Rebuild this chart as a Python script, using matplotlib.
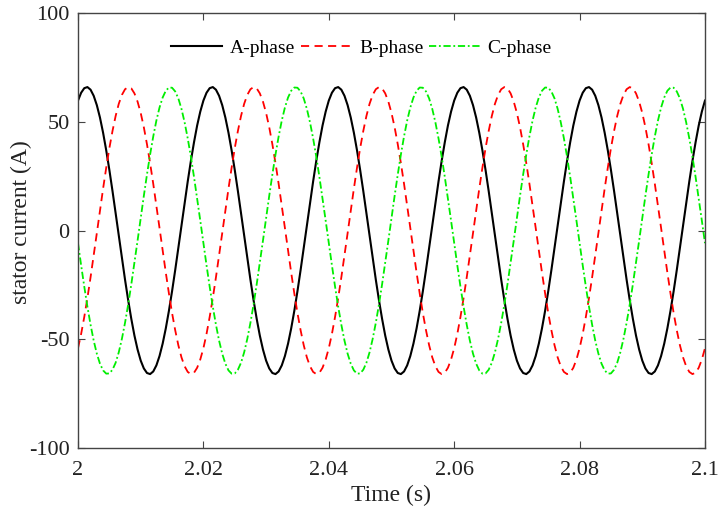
import numpy as np
import matplotlib
matplotlib.use('Agg')
import matplotlib.pyplot as plt

# time axis, one sample every 0.5 ms from 2.000 s to 2.100 s
t = np.round(np.arange(2.0, 2.10025, 0.0005), 4)

# phase currents (A), one cycle = 40 samples
ia = [59.8, 63.4, 65.5, 66.0, 64.8, 62.0, 57.7, 52.0, 45.0, 36.9, 27.9, 18.2, 8.0, -2.3, -12.6, -22.6, -32.0, -40.6, -48.3, -54.7,
      -59.8, -63.4, -65.5, -66.0, -64.8, -62.0, -57.7, -52.0, -45.0, -36.9, -27.9, -18.2, -8.0, 2.3, 12.6, 22.6, 32.0, 40.6, 48.3, 54.7,
      59.8, 63.4, 65.5, 66.0, 64.8, 62.0, 57.7, 52.0, 45.0, 36.9, 27.9, 18.2, 8.0, -2.3, -12.6, -22.6, -32.0, -40.6, -48.3, -54.7,
      -59.8, -63.4, -65.5, -66.0, -64.8, -62.0, -57.7, -52.0, -45.0, -36.9, -27.9, -18.2, -8.0, 2.3, 12.6, 22.6, 32.0, 40.6, 48.3, 54.7,
      59.8, 63.4, 65.5, 66.0, 64.8, 62.0, 57.7, 52.0, 45.0, 36.9, 27.9, 18.2, 8.0, -2.3, -12.6, -22.6, -32.0, -40.6, -48.3, -54.7,
      -59.8, -63.4, -65.5, -66.0, -64.8, -62.0, -57.7, -52.0, -45.0, -36.9, -27.9, -18.2, -8.0, 2.3, 12.6, 22.6, 32.0, 40.6, 48.3, 54.7,
      59.8, 63.4, 65.5, 66.0, 64.8, 62.0, 57.7, 52.0, 45.0, 36.9, 27.9, 18.2, 8.0, -2.3, -12.6, -22.6, -32.0, -40.6, -48.3, -54.7,
      -59.8, -63.4, -65.5, -66.0, -64.8, -62.0, -57.7, -52.0, -45.0, -36.9, -27.9, -18.2, -8.0, 2.3, 12.6, 22.6, 32.0, 40.6, 48.3, 54.7,
      59.8, 63.4, 65.5, 66.0, 64.8, 62.0, 57.7, 52.0, 45.0, 36.9, 27.9, 18.2, 8.0, -2.3, -12.6, -22.6, -32.0, -40.6, -48.3, -54.7,
      -59.8, -63.4, -65.5, -66.0, -64.8, -62.0, -57.7, -52.0, -45.0, -36.9, -27.9, -18.2, -8.0, 2.3, 12.6, 22.6, 32.0, 40.6, 48.3, 54.7,
      59.8]
ib = [-54.1, -47.5, -39.7, -31.0, -21.5, -11.5, -1.2, 9.2, 19.3, 28.9, 37.9, 45.8, 52.7, 58.3, 62.4, 65.0, 66.0, 65.4, 63.1, 59.3,
      54.1, 47.5, 39.7, 31.0, 21.5, 11.5, 1.2, -9.2, -19.3, -28.9, -37.9, -45.8, -52.7, -58.3, -62.4, -65.0, -66.0, -65.4, -63.1, -59.3,
      -54.1, -47.5, -39.7, -31.0, -21.5, -11.5, -1.2, 9.2, 19.3, 28.9, 37.9, 45.8, 52.7, 58.3, 62.4, 65.0, 66.0, 65.4, 63.1, 59.3,
      54.1, 47.5, 39.7, 31.0, 21.5, 11.5, 1.2, -9.2, -19.3, -28.9, -37.9, -45.8, -52.7, -58.3, -62.4, -65.0, -66.0, -65.4, -63.1, -59.3,
      -54.1, -47.5, -39.7, -31.0, -21.5, -11.5, -1.2, 9.2, 19.3, 28.9, 37.9, 45.8, 52.7, 58.3, 62.4, 65.0, 66.0, 65.4, 63.1, 59.3,
      54.1, 47.5, 39.7, 31.0, 21.5, 11.5, 1.2, -9.2, -19.3, -28.9, -37.9, -45.8, -52.7, -58.3, -62.4, -65.0, -66.0, -65.4, -63.1, -59.3,
      -54.1, -47.5, -39.7, -31.0, -21.5, -11.5, -1.2, 9.2, 19.3, 28.9, 37.9, 45.8, 52.7, 58.3, 62.4, 65.0, 66.0, 65.4, 63.1, 59.3,
      54.1, 47.5, 39.7, 31.0, 21.5, 11.5, 1.2, -9.2, -19.3, -28.9, -37.9, -45.8, -52.7, -58.3, -62.4, -65.0, -66.0, -65.4, -63.1, -59.3,
      -54.1, -47.5, -39.7, -31.0, -21.5, -11.5, -1.2, 9.2, 19.3, 28.9, 37.9, 45.8, 52.7, 58.3, 62.4, 65.0, 66.0, 65.4, 63.1, 59.3,
      54.1, 47.5, 39.7, 31.0, 21.5, 11.5, 1.2, -9.2, -19.3, -28.9, -37.9, -45.8, -52.7, -58.3, -62.4, -65.0, -66.0, -65.4, -63.1, -59.3,
      -54.1]
ic = [-5.8, -16.0, -25.8, -35.0, -43.3, -50.6, -56.6, -61.2, -64.3, -65.8, -65.7, -64.0, -60.8, -56.0, -49.8, -42.4, -34.0, -24.7, -14.8, -4.6,
      5.8, 16.0, 25.8, 35.0, 43.3, 50.6, 56.6, 61.2, 64.3, 65.8, 65.7, 64.0, 60.8, 56.0, 49.8, 42.4, 34.0, 24.7, 14.8, 4.6,
      -5.8, -16.0, -25.8, -35.0, -43.3, -50.6, -56.6, -61.2, -64.3, -65.8, -65.7, -64.0, -60.8, -56.0, -49.8, -42.4, -34.0, -24.7, -14.8, -4.6,
      5.8, 16.0, 25.8, 35.0, 43.3, 50.6, 56.6, 61.2, 64.3, 65.8, 65.7, 64.0, 60.8, 56.0, 49.8, 42.4, 34.0, 24.7, 14.8, 4.6,
      -5.8, -16.0, -25.8, -35.0, -43.3, -50.6, -56.6, -61.2, -64.3, -65.8, -65.7, -64.0, -60.8, -56.0, -49.8, -42.4, -34.0, -24.7, -14.8, -4.6,
      5.8, 16.0, 25.8, 35.0, 43.3, 50.6, 56.6, 61.2, 64.3, 65.8, 65.7, 64.0, 60.8, 56.0, 49.8, 42.4, 34.0, 24.7, 14.8, 4.6,
      -5.8, -16.0, -25.8, -35.0, -43.3, -50.6, -56.6, -61.2, -64.3, -65.8, -65.7, -64.0, -60.8, -56.0, -49.8, -42.4, -34.0, -24.7, -14.8, -4.6,
      5.8, 16.0, 25.8, 35.0, 43.3, 50.6, 56.6, 61.2, 64.3, 65.8, 65.7, 64.0, 60.8, 56.0, 49.8, 42.4, 34.0, 24.7, 14.8, 4.6,
      -5.8, -16.0, -25.8, -35.0, -43.3, -50.6, -56.6, -61.2, -64.3, -65.8, -65.7, -64.0, -60.8, -56.0, -49.8, -42.4, -34.0, -24.7, -14.8, -4.6,
      5.8, 16.0, 25.8, 35.0, 43.3, 50.6, 56.6, 61.2, 64.3, 65.8, 65.7, 64.0, 60.8, 56.0, 49.8, 42.4, 34.0, 24.7, 14.8, 4.6,
      -5.8]

xticks = [2, 2.02, 2.04, 2.06, 2.08, 2.1]
xticklabels = ['2', '2.02', '2.04', '2.06', '2.08', '2.1']
yticks = [-100, -50, 0, 50, 100]

plt.rcParams['font.family'] = ['Liberation Serif', 'DejaVu Serif']
plt.rcParams['axes.unicode_minus'] = False

fig = plt.figure(figsize=(7.19, 5.14), dpi=100)
ax = fig.add_axes([0.1085, 0.1284, 0.872, 0.846])

ax.plot(t, ia, color='black', lw=1.5, label='A-phase')
ax.plot(t, ib, color='red', lw=1.3, ls=(0, (4.5, 3)), label='B-phase')
ax.plot(t, ic, color='#00ee00', lw=1.3, ls=(0, (4, 1.5, 1, 1.5)), label='C-phase')

ax.set_xlim(2, 2.1)
ax.set_ylim(-100, 100)
ax.set_xticks(xticks)
ax.set_xticklabels(xticklabels)
ax.set_yticks(yticks)
ax.tick_params(direction='in', top=True, right=True, labelsize=16,
               length=5, width=0.8, color='#444444', labelcolor='#222222', pad=6)
ax.tick_params(axis='x', pad=9)
for s in ax.spines.values():
    s.set_color('#444444')
    s.set_linewidth(1.0)

ax.set_xlabel('Time (s)', fontsize=17, labelpad=4, color='#222222')
ax.set_ylabel('stator current (A)', fontsize=17, color='#222222')
ax.yaxis.set_label_coords(-0.074, 0.52)

ax.legend(loc='upper center', bbox_to_anchor=(0.452, 0.98), ncol=3, frameon=False,
          fontsize=14, handlelength=2.6, columnspacing=0.3, handletextpad=0.4)

fig.savefig('out.png', dpi=100)
